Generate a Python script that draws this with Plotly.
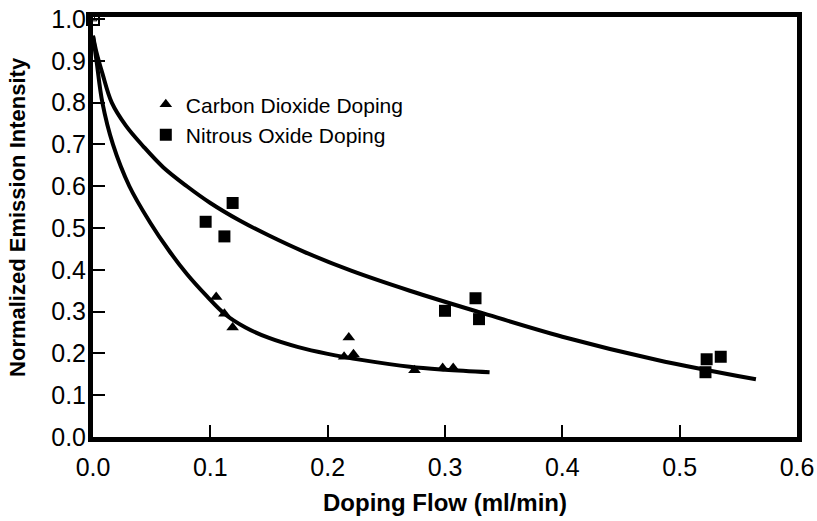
import plotly.graph_objects as go

# Measured data points
co2_x = [0.105, 0.112, 0.119, 0.214, 0.218, 0.222, 0.274, 0.298, 0.307]
co2_y = [0.335, 0.295, 0.262, 0.192, 0.238, 0.198, 0.160, 0.165, 0.165]

n2o_x = [0.096, 0.112, 0.119, 0.300, 0.326, 0.329, 0.522, 0.523, 0.535]
n2o_y = [0.515, 0.480, 0.560, 0.302, 0.332, 0.282, 0.155, 0.186, 0.192]

# Fitted curves
co2_fit_x = [0.0, 0.003, 0.008, 0.017, 0.031, 0.0485, 0.065, 0.08, 0.097, 0.112, 0.13, 0.15, 0.175, 0.2, 0.23, 0.27, 0.30, 0.338]
co2_fit_y = [0.96, 0.90, 0.80, 0.70, 0.60, 0.514, 0.445, 0.39, 0.337, 0.295, 0.262, 0.237, 0.215, 0.199, 0.184, 0.168, 0.161, 0.155]

n2o_fit_x = [0.0, 0.003, 0.008, 0.016, 0.028, 0.043, 0.06, 0.08, 0.1, 0.125, 0.15, 0.18, 0.22, 0.27, 0.33, 0.4, 0.48, 0.565]
n2o_fit_y = [0.96, 0.92, 0.87, 0.80, 0.745, 0.695, 0.645, 0.60, 0.56, 0.518, 0.482, 0.443, 0.398, 0.35, 0.298, 0.24, 0.185, 0.138]

origin_x = [0.0]
origin_y = [1.0]

x_ticks = [0.0, 0.1, 0.2, 0.3, 0.4, 0.5, 0.6]
y_ticks = [0.0, 0.1, 0.2, 0.3, 0.4, 0.5, 0.6, 0.7, 0.8, 0.9, 1.0]

x_title = "Doping Flow (ml/min)"
y_title = "Normalized Emission Intensity"

REG = "Liberation Sans, Arial, Helvetica, sans-serif"

fig = go.Figure()

fig.add_trace(go.Scatter(x=co2_fit_x, y=co2_fit_y, mode="lines", line=dict(color="black", width=4, shape="spline", smoothing=1.0),
                         showlegend=False, hoverinfo="skip"))
fig.add_trace(go.Scatter(x=n2o_fit_x, y=n2o_fit_y, mode="lines", line=dict(color="black", width=4, shape="spline", smoothing=1.0),
                         showlegend=False, hoverinfo="skip"))

fig.add_trace(go.Scatter(x=co2_x, y=co2_y, mode="markers", name="Carbon Dioxide Doping",
                         marker=dict(symbol="triangle-up", size=11, color="black"),
                         legendgroup="a"))
fig.add_trace(go.Scatter(x=n2o_x, y=n2o_y, mode="markers", name="Nitrous Oxide Doping",
                         marker=dict(symbol="square", size=12, color="black"),
                         legendgroup="b"))

fig.add_trace(go.Scatter(x=origin_x, y=origin_y, mode="markers", showlegend=False, cliponaxis=False,
                         marker=dict(symbol="square", size=12, color="white", line=dict(color="black", width=2))))
fig.add_trace(go.Scatter(x=origin_x, y=origin_y, mode="markers", showlegend=False, cliponaxis=False,
                         marker=dict(symbol="triangle-up", size=7, color="white", line=dict(color="black", width=1))))

fig.update_layout(
    width=817, height=521,
    margin=dict(l=93, r=20, t=17, b=84),
    paper_bgcolor="white", plot_bgcolor="white",
    showlegend=True,
    legend=dict(x=0.075, y=0.84, xanchor="left", yanchor="top",
                font=dict(family=REG, size=21, color="black"),
                traceorder="grouped", tracegroupgap=0,
                bgcolor="rgba(0,0,0,0)", itemwidth=30),
    xaxis=dict(range=[0, 0.6], tickvals=x_ticks, ticktext=[f"{v:.1f}" for v in x_ticks],
               ticks="inside", ticklen=12, tickwidth=2, tickcolor="black",
               showline=True, linewidth=5, linecolor="black", mirror=True,
               showgrid=False, zeroline=False, ticklabelstandoff=4, automargin=False,
               tickfont=dict(family=REG, size=25, color="black")),
    yaxis=dict(range=[0, 1.005], tickvals=y_ticks, ticktext=[f"{v:.1f}" for v in y_ticks],
               ticks="inside", ticklen=12, tickwidth=2, tickcolor="black",
               showline=True, linewidth=5, linecolor="black", mirror=True,
               showgrid=False, zeroline=False, ticklabelstandoff=-3, automargin=False,
               tickfont=dict(family=REG, size=25, color="black")),
    annotations=[
        dict(text=f"<b>{x_title}</b>", xref="paper", yref="paper", x=0.5, y=-0.155,
             xanchor="center", yanchor="middle", showarrow=False,
             font=dict(family=REG, size=24, color="black")),
        dict(text=f"<b>{y_title}</b>", xref="paper", yref="paper", x=-0.1065, y=0.524,
             xanchor="center", yanchor="middle", showarrow=False, textangle=-90,
             font=dict(family=REG, size=22, color="black")),
    ],
)

fig.write_html("out.html")
